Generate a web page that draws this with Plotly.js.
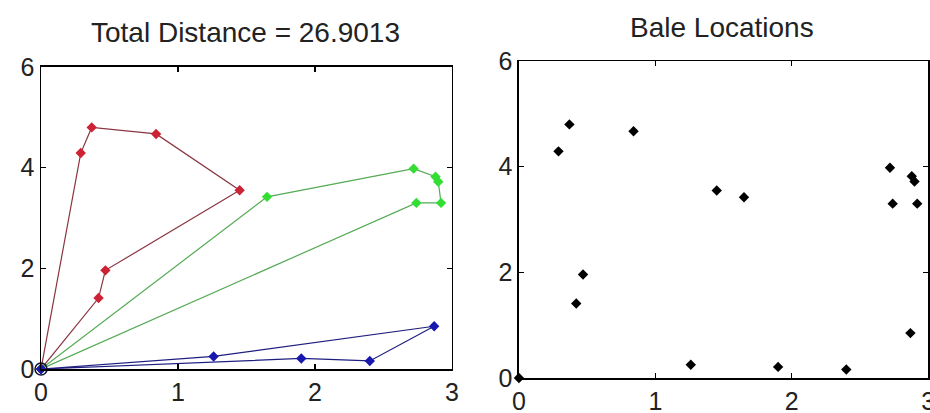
<!DOCTYPE html>
<html>
<head>
<meta charset="utf-8">
<script src="https://cdn.plot.ly/plotly-3.0.1.min.js"></script>
<style>html,body{margin:0;padding:0;background:#fff;}#chart{width:930px;height:413px;}</style>
</head>
<body>
<div id="chart"></div>
<script>
// Truck routes (start and end at the origin)
var redRouteX   = [0, 0.29, 0.37, 0.84, 1.45, 0.47, 0.42, 0];
var redRouteY   = [0, 4.29, 4.80, 4.67, 3.55, 1.96, 1.41, 0];
var greenRouteX = [0, 1.65, 2.72, 2.88, 2.90, 2.92, 2.74, 0];
var greenRouteY = [0, 3.42, 3.98, 3.82, 3.72, 3.30, 3.30, 0];
var blueRouteX  = [0, 1.26, 2.87, 2.40, 1.90, 0];
var blueRouteY  = [0, 0.25, 0.85, 0.16, 0.21, 0];
// Bale locations
var baleX = [0, 0.29, 0.37, 0.84, 1.45, 0.47, 0.42, 1.65, 2.72, 2.88, 2.90, 2.92, 2.74, 1.26, 2.87, 2.40, 1.90];
var baleY = [0, 4.29, 4.80, 4.67, 3.55, 1.96, 1.41, 3.42, 3.98, 3.82, 3.72, 3.30, 3.30, 0.25, 0.85, 0.16, 0.21];
var depotX = [0], depotY = [0];
var xTicks = [0, 1, 2, 3];
var yTicks = [0, 2, 4, 6];
var leftTitle = 'Total Distance = 26.9013';
var rightTitle = 'Bale Locations';

function route(x, y, lineColor, markerColor) {
  return {x: x, y: y, xaxis: 'x', yaxis: 'y', type: 'scatter', mode: 'lines+markers',
    line: {color: lineColor, width: 1.2},
    marker: {symbol: 'diamond', size: 8, color: markerColor},
    hoverinfo: 'skip', showlegend: false, cliponaxis: false};
}
var traces = [
  route(redRouteX, redRouteY, '#8a3440', '#cc2233'),
  route(greenRouteX, greenRouteY, '#55aa55', '#33dd33'),
  route(blueRouteX, blueRouteY, '#1e1e80', '#1818b0'),
  {x: depotX, y: depotY, xaxis: 'x', yaxis: 'y', type: 'scatter', mode: 'markers',
   marker: {symbol: 'circle-open', size: 12, color: '#111133', line: {width: 1.5, color: '#111133'}},
   showlegend: false, cliponaxis: false},
  {x: baleX, y: baleY, xaxis: 'x2', yaxis: 'y2', type: 'scatter', mode: 'markers',
   marker: {symbol: 'diamond', size: 8, color: '#000'},
   showlegend: false, cliponaxis: false}
];

var tickFont = {family: 'Liberation Sans, Arial, sans-serif', size: 25, color: '#222'};
var titleFont = {family: 'Liberation Sans, Arial, sans-serif', size: 28, color: '#222'};
function ax(domain, range, ticks, anchor) {
  return {domain: domain, range: range, tickvals: ticks, ticktext: ticks.map(String),
    anchor: anchor, showgrid: false, zeroline: false, showline: true, linecolor: '#000',
    linewidth: 1.5, mirror: 'ticks', ticks: 'inside', ticklen: 5, tickwidth: 1.5,
    tickcolor: '#000', tickfont: tickFont, fixedrange: true, ticklabeloverflow: 'allow'};
}
var xa = ax([0.0441, 0.486], [0, 3], xTicks, 'y');
var ya = ax([0.1065, 0.8378], [0, 6], yTicks, 'x');
var xa2 = ax([0.558, 0.998], [0, 3], xTicks, 'y2');
var ya2 = ax([0.0847, 0.8523], [0, 6], yTicks, 'x2');

var layout = {
  width: 930, height: 413,
  margin: {l: 0, r: 0, t: 0, b: 0},
  paper_bgcolor: '#fff', plot_bgcolor: '#fff',
  xaxis: xa, yaxis: ya, xaxis2: xa2, yaxis2: ya2,
  font: tickFont,
  annotations: [
    {text: leftTitle, xref: 'paper', yref: 'paper', x: 245/930, y: 1 - 33/413,
     xanchor: 'center', yanchor: 'middle', showarrow: false, font: titleFont},
    {text: rightTitle, xref: 'paper', yref: 'paper', x: 722/930, y: 1 - 27/413,
     xanchor: 'center', yanchor: 'middle', showarrow: false, font: titleFont}
  ]
};
Plotly.newPlot('chart', traces, layout, {staticPlot: true, displayModeBar: false});
</script>
</body>
</html>
